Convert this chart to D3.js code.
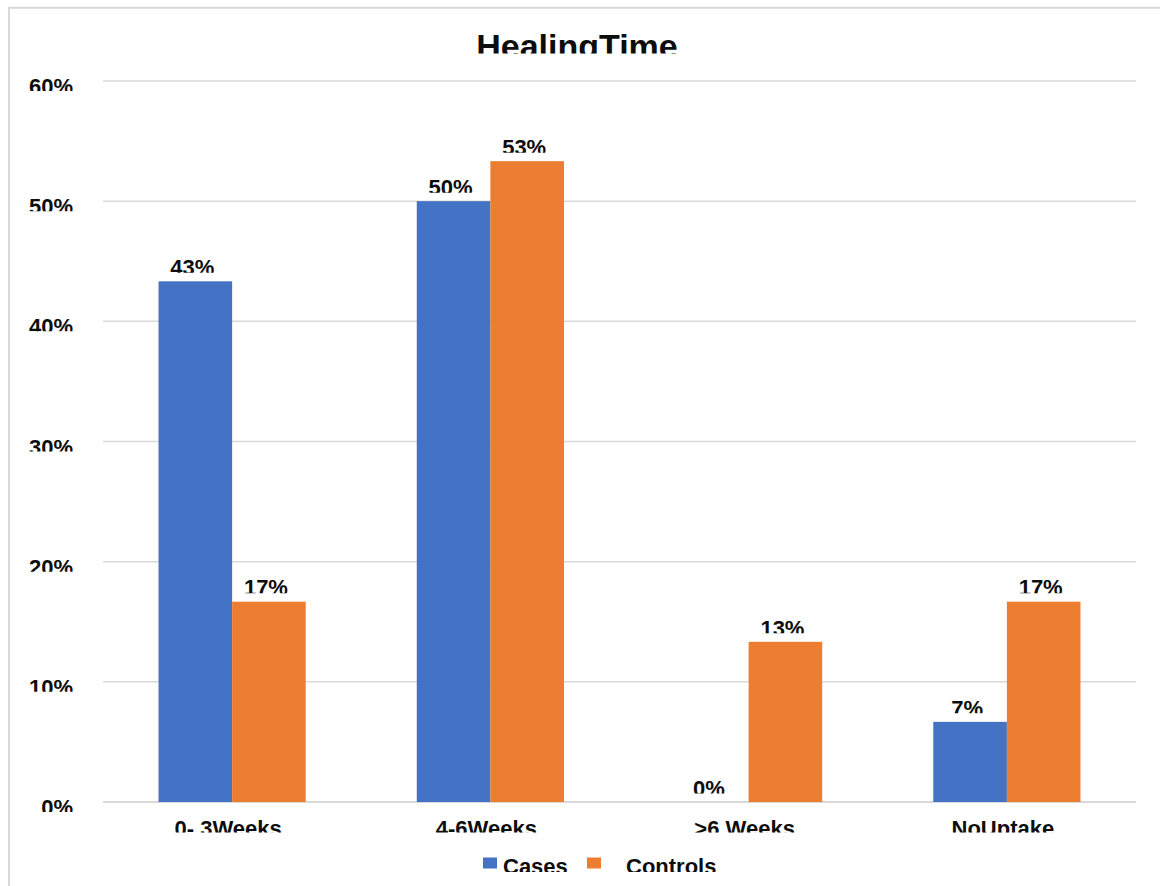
<!DOCTYPE html>
<html>
<head>
<meta charset="utf-8">
<script src="https://cdn.jsdelivr.net/npm/d3@7/dist/d3.min.js"></script>
<style>
  html, body { margin: 0; padding: 0; background: #fff; }
  svg { display: block; }
  text { font-family: "Liberation Sans", Arial, sans-serif; font-weight: bold; fill: #0d0d0d; }
</style>
</head>
<body>
<svg id="chart" width="1160" height="886"></svg>
<script>
const title = "HealingTime";
const categories = ["0- 3Weeks", "4-6Weeks", ">6 Weeks", "NoUptake"];
const seriesNames = ["Cases", "Controls"];
const cases = [43.33, 50, 0, 6.67];
const controls = [16.67, 53.33, 13.33, 16.67];
const yTicks = [0, 10, 20, 30, 40, 50, 60];
const colors = ["#4472C4", "#ED7D31"];

const svg = d3.select("#chart");
const W = 1160, H = 886;
const plot = { left: 103, right: 1136, top: 81, bottom: 802 };

// frame border
svg.append("path")
  .attr("d", `M9,${H} L9,7.7 L${W},7.7`)
  .attr("fill", "none").attr("stroke", "#d9d9d9").attr("stroke-width", 2);

const x0 = d3.scaleBand().domain(categories).range([plot.left, plot.right])
  .paddingInner(0.43).paddingOuter(0.215);
const x1 = d3.scaleBand().domain(seriesNames).range([0, x0.bandwidth()]);
const y = d3.scaleLinear().domain([0, 60]).range([plot.bottom, plot.top]);

const defs = svg.append("defs");
let clipId = 0;
function clippedText(g, clipY) {
  const id = "clip" + (clipId++);
  defs.append("clipPath").attr("id", id).attr("clipPathUnits", "userSpaceOnUse")
    .append("rect").attr("x", -10).attr("y", -10).attr("width", W + 20).attr("height", clipY + 10);
  return g.attr("clip-path", `url(#${id})`);
}

// gridlines
svg.append("g").selectAll("line").data(yTicks).join("line")
  .attr("x1", plot.left).attr("x2", plot.right)
  .attr("y1", d => y(d)).attr("y2", d => y(d))
  .attr("stroke", "#d9d9d9").attr("stroke-width", d => d === 0 ? 2 : 1.5);

// y labels
yTicks.forEach(t => {
  const yy = y(t);
  clippedText(svg.append("g"), yy + 10)
    .append("text").attr("x", 73).attr("y", yy + 13)
    .attr("text-anchor", "end").attr("font-size", 22)
    .text(t + "%");
});

// bars
const series = [cases, controls];
const gBars = svg.append("g");
series.forEach((vals, si) => {
  gBars.selectAll(null).data(vals).join("rect")
    .attr("x", (d, i) => x0(categories[i]) + x1(seriesNames[si]))
    .attr("y", d => y(d))
    .attr("width", x1.bandwidth())
    .attr("height", d => y(0) - y(d))
    .attr("fill", colors[si]);
});

// data labels
series.forEach((vals, si) => {
  vals.forEach((v, i) => {
    const cx = x0(categories[i]) + x1(seriesNames[si]) + x1.bandwidth() / 2 - 3;
    const top = y(v);
    clippedText(svg.append("g"), top - 8.5)
      .append("text").attr("x", cx).attr("y", top - 6.3)
      .attr("text-anchor", "middle").attr("font-size", 22)
      .text(Math.round(v) + "%");
  });
});

// x labels
categories.forEach(c => {
  clippedText(svg.append("g"), 832.5)
    .append("text").attr("x", x0(c) + x0.bandwidth() / 2 - 4).attr("y", 836)
    .attr("text-anchor", "middle").attr("font-size", 22)
    .text(c);
});

// title
clippedText(svg.append("g"), 53.5)
  .append("text").attr("x", 577).attr("y", 57.5)
  .attr("text-anchor", "middle").attr("font-size", 34)
  .text(title);

// legend
const legendItems = [
  { name: seriesNames[0], color: colors[0], sx: 483, tx: 503 },
  { name: seriesNames[1], color: colors[1], sx: 587, tx: 626 }
];
legendItems.forEach(it => {
  svg.append("rect").attr("x", it.sx).attr("y", 857.5).attr("width", 14).attr("height", 11)
    .attr("fill", it.color);
  clippedText(svg.append("g"), 872)
    .append("text").attr("x", it.tx).attr("y", 874).attr("font-size", 22)
    .text(it.name);
});
</script>
</body>
</html>
